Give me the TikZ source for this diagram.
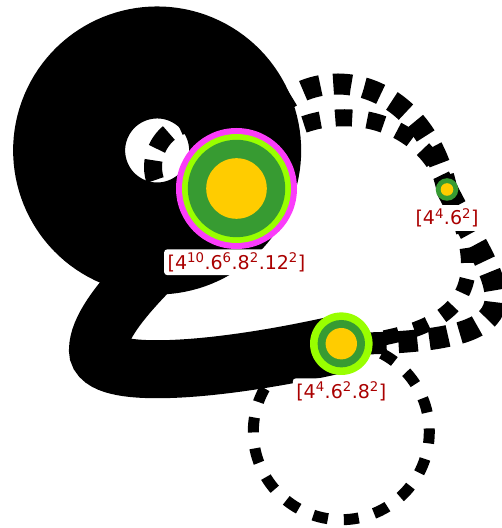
\documentclass[tikz,border=0pt]{standalone}
\usepackage{fontspec}
\setmainfont{DejaVu Sans}
\usetikzlibrary{positioning}

\definecolor{ringmag}{RGB}{250,60,250}
\definecolor{ringlime}{RGB}{153,255,0}
\definecolor{ringgreen}{RGB}{55,155,50}
\definecolor{ringgold}{RGB}{255,204,0}
\definecolor{labelred}{RGB}{170,0,0}

\begin{document}
\begin{tikzpicture}[
  x=1pt, y=1pt,
  bond/.style={draw=black, line cap=butt},
  ghost/.style={draw=black, line cap=butt},
  site/.style={circle, inner sep=0pt, draw=none},
  lbl/.style={fill=white, rounded corners=3pt, inner sep=3.5pt,
              text=labelred, font=\fontsize{19}{22}\selectfont},
]
  \useasboundingbox (0,0) rectangle (502,528);

  %% Site positions
  \coordinate (A) at (236.5,339.5);
  \coordinate (B) at (447,338.5);
  \coordinate (C) at (341.3,184.3);

  %% Solid bonds: loop at A, bent bond A -- C
  \draw[bond, line width=112pt] (A) arc[start angle=-25.6, delta angle=360, radius=88];
  \draw[bond, line width=58pt] (A) .. controls (178.2,284.7) and (98,218) .. (98,178)
                                   .. controls (98,148) and (214,155.4) .. (C);

  %% Dashed bonds
  \draw[ghost, line width=18pt, dash pattern=on 20pt off 12pt, dash phase=4.5pt]
    (A) arc[start angle=-28.9, delta angle=360, radius=44.5];
  \draw[ghost, line width=21pt, dash pattern=on 18pt off 13pt]
    (A) .. controls +(20,140) and +(-30,140) .. (B);
  \draw[ghost, line width=17pt, dash pattern=on 17pt off 15pt]
    (A) .. controls +(38,95) and +(-30,95) .. (B);
  \draw[ghost, line width=22pt, dash pattern=on 19pt off 12pt]
    (B) .. controls +(50,-100) and +(219,0) .. (C);
  \draw[ghost, line width=15pt, dash pattern=on 15pt off 16pt]
    (B) .. controls +(40,-85) and +(140,12) .. (C);
  \draw[ghost, line width=11pt, dash pattern=on 15pt off 16pt]
    (C) arc[start angle=90, delta angle=360, radius=88];

  %% Sites
  \node[site, minimum size=121pt, fill=ringmag] (siteA) at (A) {};
  \fill[ringlime] (siteA) circle (54.5);
  \fill[ringgreen] (siteA) circle (48.7);
  \fill[ringgold] (siteA) circle (30.3);

  \node[site, minimum size=22.6pt, fill=ringgreen] (siteB) at (B) {};
  \fill[ringgold] (siteB) circle (6.3);

  \node[site, minimum size=62.6pt, fill=ringlime] (siteC) at (C) {};
  \fill[ringgreen] (siteC) circle (23.7);
  \fill[ringgold] (siteC) circle (15.7);

  %% Labels
  \node[lbl, below=0pt of siteA] (labA)
    {[4\textsuperscript{10}.6\textsuperscript{6}.8\textsuperscript{2}.12\textsuperscript{2}]};
  \node[lbl, below=4pt of siteB] (labB)
    {[4\textsuperscript{4}.6\textsuperscript{2}]};
  \node[lbl, below=3pt of siteC] (labC)
    {[4\textsuperscript{4}.6\textsuperscript{2}.8\textsuperscript{2}]};
\end{tikzpicture}
\end{document}
